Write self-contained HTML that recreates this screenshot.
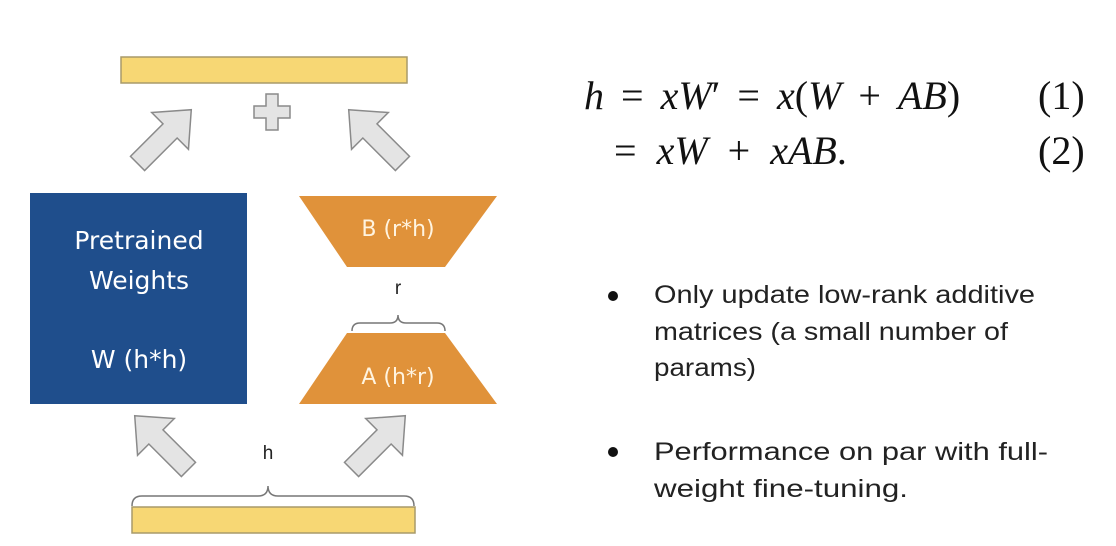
<!DOCTYPE html>
<html><head><meta charset="utf-8"><style>
html,body{margin:0;padding:0;background:#fff;width:1116px;height:546px;overflow:hidden}
svg{display:block}
</style></head><body>
<svg width="1116" height="546" viewBox="0 0 1116 546" xmlns="http://www.w3.org/2000/svg">
<defs>
<polygon id="arr" points="0,-40 26,-10 10,-10 10,36 -10,36 -10,-10 -26,-10" fill="#e4e4e4" stroke="#8a8a8a" stroke-width="1.5"/>
</defs>
<rect x="121" y="57" width="286" height="26" fill="#f7d774" stroke="#a89a6a" stroke-width="1.5"/>
<path d="M266,94 h12 v12 h12 v12 h-12 v12 h-12 v-12 h-12 v-12 h12 z" fill="#e4e4e4" stroke="#8a8a8a" stroke-width="1.5"/>
<use href="#arr" transform="translate(163,138) rotate(45)"/>
<use href="#arr" transform="translate(377,138) rotate(-45)"/>
<use href="#arr" transform="translate(163,444) rotate(-45)"/>
<use href="#arr" transform="translate(377,444) rotate(45)"/>
<rect x="30" y="193" width="217" height="211" fill="#1f4e8c"/>
<g fill="#ffffff" font-family="'DejaVu Sans','Liberation Sans',sans-serif" font-size="25" text-anchor="middle">
<text x="139" y="249">Pretrained</text>
<text x="139" y="289">Weights</text>
<text x="139" y="368">W (h*h)</text>
</g>
<polygon points="299,196 497,196 445,267 347,267" fill="#e0923a"/>
<polygon points="347,333 445,333 497,404 299,404" fill="#e0923a"/>
<g fill="#fff4e0" font-family="'DejaVu Sans','Liberation Sans',sans-serif" font-size="22" text-anchor="middle">
<text x="398" y="236">B (r*h)</text>
<text x="398" y="384">A (h*r)</text>
</g>
<text x="398" y="294" font-family="'Liberation Sans',sans-serif" font-size="19" text-anchor="middle" fill="#222">r</text>
<path d="M352,331 q0,-8 8,-8 h30 q8,0 8,-8 q0,8 8,8 h31 q8,0 8,8" fill="none" stroke="#777" stroke-width="1.5"/>
<text x="268" y="459" font-family="'Liberation Sans',sans-serif" font-size="19" text-anchor="middle" fill="#222">h</text>
<path d="M132,506 q0,-10 10,-10 h116 q10,0 10,-10 q0,10 10,10 h126 q10,0 10,10" fill="none" stroke="#777" stroke-width="1.5"/>
<rect x="132" y="507" width="283" height="26" fill="#f7d774" stroke="#a89a6a" stroke-width="1.5"/>
<g font-family="'Liberation Serif',serif" font-size="40" fill="#111">
<text x="584" y="109"><tspan font-style="italic">h</tspan><tspan dx="17">=</tspan><tspan dx="17" font-style="italic">xW</tspan>′<tspan dx="17">=</tspan><tspan dx="17" font-style="italic">x</tspan>(<tspan font-style="italic">W</tspan><tspan dx="17">+</tspan><tspan dx="17" font-style="italic">AB</tspan>)</text>
<text x="1038" y="109">(1)</text>
<text x="614" y="164">=<tspan dx="20" font-style="italic">xW</tspan><tspan dx="20">+</tspan><tspan dx="20" font-style="italic">xAB</tspan>.</text>
<text x="1038" y="164">(2)</text>
</g>
<circle cx="613" cy="296" r="5" fill="#111"/>
<circle cx="613" cy="452" r="5" fill="#111"/>
<g font-family="'Liberation Sans',sans-serif" font-size="25" fill="#222">
<text x="654" y="303" textLength="381" lengthAdjust="spacingAndGlyphs">Only update low-rank additive</text>
<text x="654" y="340" textLength="354" lengthAdjust="spacingAndGlyphs">matrices (a small number of</text>
<text x="654" y="376" textLength="102" lengthAdjust="spacingAndGlyphs">params)</text>
<text x="654" y="460" textLength="394" lengthAdjust="spacingAndGlyphs">Performance on par with full-</text>
<text x="654" y="497" textLength="254" lengthAdjust="spacingAndGlyphs">weight fine-tuning.</text>
</g>
</svg>
</body></html>
